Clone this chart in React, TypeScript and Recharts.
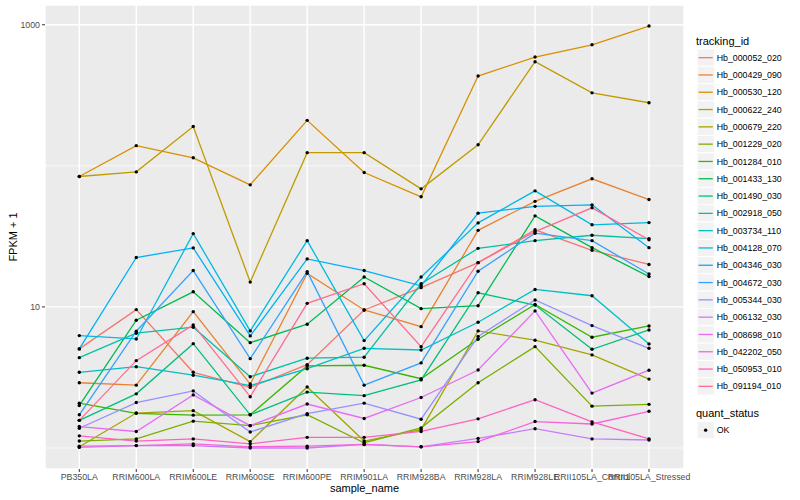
import React from 'react';
import { LineChart, Line, XAxis, YAxis, CartesianGrid, ReferenceLine } from 'recharts';

const categories = [
  'PB350LA', 'RRIM600LA', 'RRIM600LE', 'RRIM600SE', 'RRIM600PE', 'RRIM901LA',
  'RRIM928BA', 'RRIM928LA', 'RRIM928LE', 'RRII105LA_Control', 'RRII105LA_Stressed',
];

const trackingIds = [
  'Hb_000052_020', 'Hb_000429_090', 'Hb_000530_120', 'Hb_000622_240', 'Hb_000679_220',
  'Hb_001229_020', 'Hb_001284_010', 'Hb_001433_130', 'Hb_001490_030', 'Hb_002918_050',
  'Hb_003734_110', 'Hb_004128_070', 'Hb_004346_030', 'Hb_004672_030', 'Hb_005344_030',
  'Hb_006132_030', 'Hb_008698_010', 'Hb_042202_050', 'Hb_050953_010', 'Hb_091194_010',
];

const seriesColors = [
  '#F8766D', '#EA8331', '#D89000', '#C09B00', '#A3A500', '#7CAE00', '#39B600', '#00BB4E',
  '#00BF7D', '#00C1A3', '#00BFC4', '#00BAE0', '#00B0F6', '#35A2FF', '#9590FF', '#C77CFF',
  '#E76BF3', '#FA62DB', '#FF62BC', '#FF6C91',
];

const hb000052_020 = [5.04, 9.57, 3.44, 2.69, 3.9, 9.52, 13.7, 20.6, 35.2, 25.2, 20.0];
const hb000429_090 = [2.9, 2.79, 9.26, 2.84, 17.3, 9.52, 7.25, 34.9, 56.0, 80.9, 57.7];
const hb000530_120 = [84.0, 139, 114, 73.3, 210, 89.6, 60.3, 433, 590, 721, 979];
const hb000622_240 = [84.0, 90.6, 190, 15.0, 124, 124, 68.7, 141, 547, 329, 280];
const hb000679_220 = [1.02, 1.77, 1.84, 1.11, 2.71, 1.12, 1.35, 6.76, 5.81, 4.57, 3.08];
const hb001229_020 = [1.12, 1.16, 1.55, 1.44, 1.72, 1.09, 1.39, 2.9, 5.23, 1.98, 2.04];
const hb001284_010 = [2.08, 1.76, 1.71, 1.72, 3.82, 3.86, 3.1, 5.9, 10.4, 6.1, 7.33];
const hb001433_130 = [2.0, 8.05, 12.8, 5.58, 7.54, 16.3, 9.72, 10.2, 44.2, 26.3, 16.4];
const hb001490_030 = [1.57, 2.42, 5.49, 1.72, 2.49, 2.35, 3.04, 12.6, 10.3, 5.01, 6.87];
const hb002918_050 = [4.37, 6.51, 7.18, 3.2, 4.33, 4.4, 14.6, 26.0, 29.5, 32.2, 30.5];
const hb003734_110 = [3.44, 3.77, 3.28, 2.77, 3.65, 5.09, 4.95, 7.79, 13.3, 12.0, 5.47];
const hb004128_070 = [6.26, 5.93, 33.1, 6.76, 29.5, 5.77, 16.3, 39.4, 66.5, 38.2, 39.6];
const hb004346_030 = [5.04, 22.4, 26.2, 6.23, 21.9, 18.1, 14.1, 46.2, 51.6, 52.9, 26.3];
const hb004672_030 = [1.72, 6.73, 18.1, 4.3, 17.8, 2.79, 4.01, 17.9, 33.3, 29.5, 17.1];
const hb005344_030 = [1.38, 2.1, 2.54, 1.3, 1.75, 2.08, 1.6, 6.18, 11.2, 7.37, 5.09];
const hb006132_030 = [1.01, 1.04, 1.04, 1.0, 1.0, 1.06, 1.02, 1.17, 1.37, 1.16, 1.14];
const hb008698_010 = [1.42, 1.31, 2.38, 1.44, 2.05, 1.62, 2.28, 3.57, 9.37, 2.45, 3.56];
const hb042202_050 = [1.03, 1.04, 1.07, 1.02, 1.03, 1.06, 1.02, 1.11, 1.54, 1.48, 1.82];
const hb050953_010 = [1.22, 1.12, 1.16, 1.07, 1.19, 1.19, 1.31, 1.61, 2.2, 1.53, 1.16];
const hb091194_010 = [1.57, 4.16, 7.45, 2.31, 10.6, 14.6, 5.23, 20.6, 34.2, 50.4, 29.9];

const seriesValues = [
  hb000052_020, hb000429_090, hb000530_120, hb000622_240, hb000679_220,
  hb001229_020, hb001284_010, hb001433_130, hb001490_030, hb002918_050,
  hb003734_110, hb004128_070, hb004346_030, hb004672_030, hb005344_030,
  hb006132_030, hb008698_010, hb042202_050, hb050953_010, hb091194_010,
];

const yTicks = [10, 1000];
const yMinorLines = [1, 100];

const data = categories.map((c, i) => {
  const row: Record<string, string | number> = { sample_name: c };
  trackingIds.forEach((id, k) => {
    row[id] = seriesValues[k][i];
  });
  return row;
});

const FONT = '"Liberation Sans", Arial, Helvetica, sans-serif';

function LegendOverlay() {
  const boxX = 697;
  const top = 49;
  const step = 17.3;
  return (
    <svg
      width={800}
      height={500}
      style={{ position: 'absolute', left: 0, top: 0, pointerEvents: 'none' }}
      fontFamily={FONT}
    >
      <text x={364.5} y={492} textAnchor="middle" fontSize={11} fill="#000000">
        sample_name
      </text>
      <text
        x={16.5}
        y={237}
        textAnchor="middle"
        fontSize={11}
        fill="#000000"
        transform="rotate(-90, 16.5, 237)"
      >
        FPKM + 1
      </text>
      <text x={696} y={44.5} fontSize={11} fill="#000000">
        tracking_id
      </text>
      {trackingIds.map((id, i) => {
        const y = top + i * step;
        return (
          <g key={id}>
            <rect x={boxX} y={y} width={step} height={step} fill="#F2F2F2" stroke="#FFFFFF" strokeWidth={1} />
            <line x1={boxX + 1.5} x2={boxX + step - 1.5} y1={y + step / 2} y2={y + step / 2} stroke={seriesColors[i]} strokeWidth={1.3} />
            <text x={716.7} y={y + step / 2 + 3.1} fontSize={8.8} fill="#000000">
              {id}
            </text>
          </g>
        );
      })}
      <text x={696} y={416.5} fontSize={11} fill="#000000">
        quant_status
      </text>
      <rect x={boxX} y={421.5} width={step} height={step} fill="#F2F2F2" stroke="#FFFFFF" strokeWidth={1} />
      <circle cx={boxX + step / 2} cy={421.5 + step / 2} r={1.7} fill="#000000" />
      <text x={716.7} y={421.5 + step / 2 + 3.1} fontSize={8.8} fill="#000000">
        OK
      </text>
    </svg>
  );
}

export default function App() {
  return (
    <div style={{ position: 'absolute', left: 0, top: 0, width: 800, height: 500, background: '#FFFFFF' }}>
      <LineChart
        width={800}
        height={500}
        data={data}
        margin={{ top: 5, right: 116, bottom: 0, left: 0 }}
        style={{ fontFamily: FONT }}
      >
        <CartesianGrid fill="#EBEBEB" stroke="#FFFFFF" strokeWidth={1.4} />
        {yMinorLines.map((v) => (
          <ReferenceLine key={'m' + v} y={v} stroke="#FFFFFF" strokeWidth={0.7} zIndex={-50} />
        ))}
        <XAxis
          dataKey="sample_name"
          padding={{ left: 34.3, right: 35 }}
          interval={0}
          axisLine={false}
          tickLine={{ stroke: '#333333', strokeWidth: 1 }}
          tickSize={3}
          tickMargin={2}
          height={31}
          tick={{ fontSize: 8.8, fill: '#4D4D4D', fontFamily: FONT }}
        />
        <YAxis
          type="number"
          scale="log"
          domain={[0.71, 1380]}
          allowDataOverflow
          ticks={yTicks}
          width={45}
          axisLine={false}
          tickLine={{ stroke: '#333333', strokeWidth: 1 }}
          tickSize={3}
          tickMargin={2}
          tick={{ fontSize: 8.8, fill: '#4D4D4D', fontFamily: FONT }}
        />
        {trackingIds.map((id, k) => (
          <Line
            key={'l' + id}
            type="linear"
            dataKey={id}
            stroke={seriesColors[k]}
            strokeWidth={1.3}
            dot={false}
            activeDot={false}
            isAnimationActive={false}
          />
        ))}
        {trackingIds.map((id) => (
          <Line
            key={'p' + id}
            type="linear"
            dataKey={id}
            stroke="none"
            strokeWidth={0}
            dot={{ r: 1.7, fill: '#000000', stroke: 'none', strokeWidth: 0 }}
            activeDot={false}
            isAnimationActive={false}
          />
        ))}
      </LineChart>
      <LegendOverlay />
    </div>
  );
}
